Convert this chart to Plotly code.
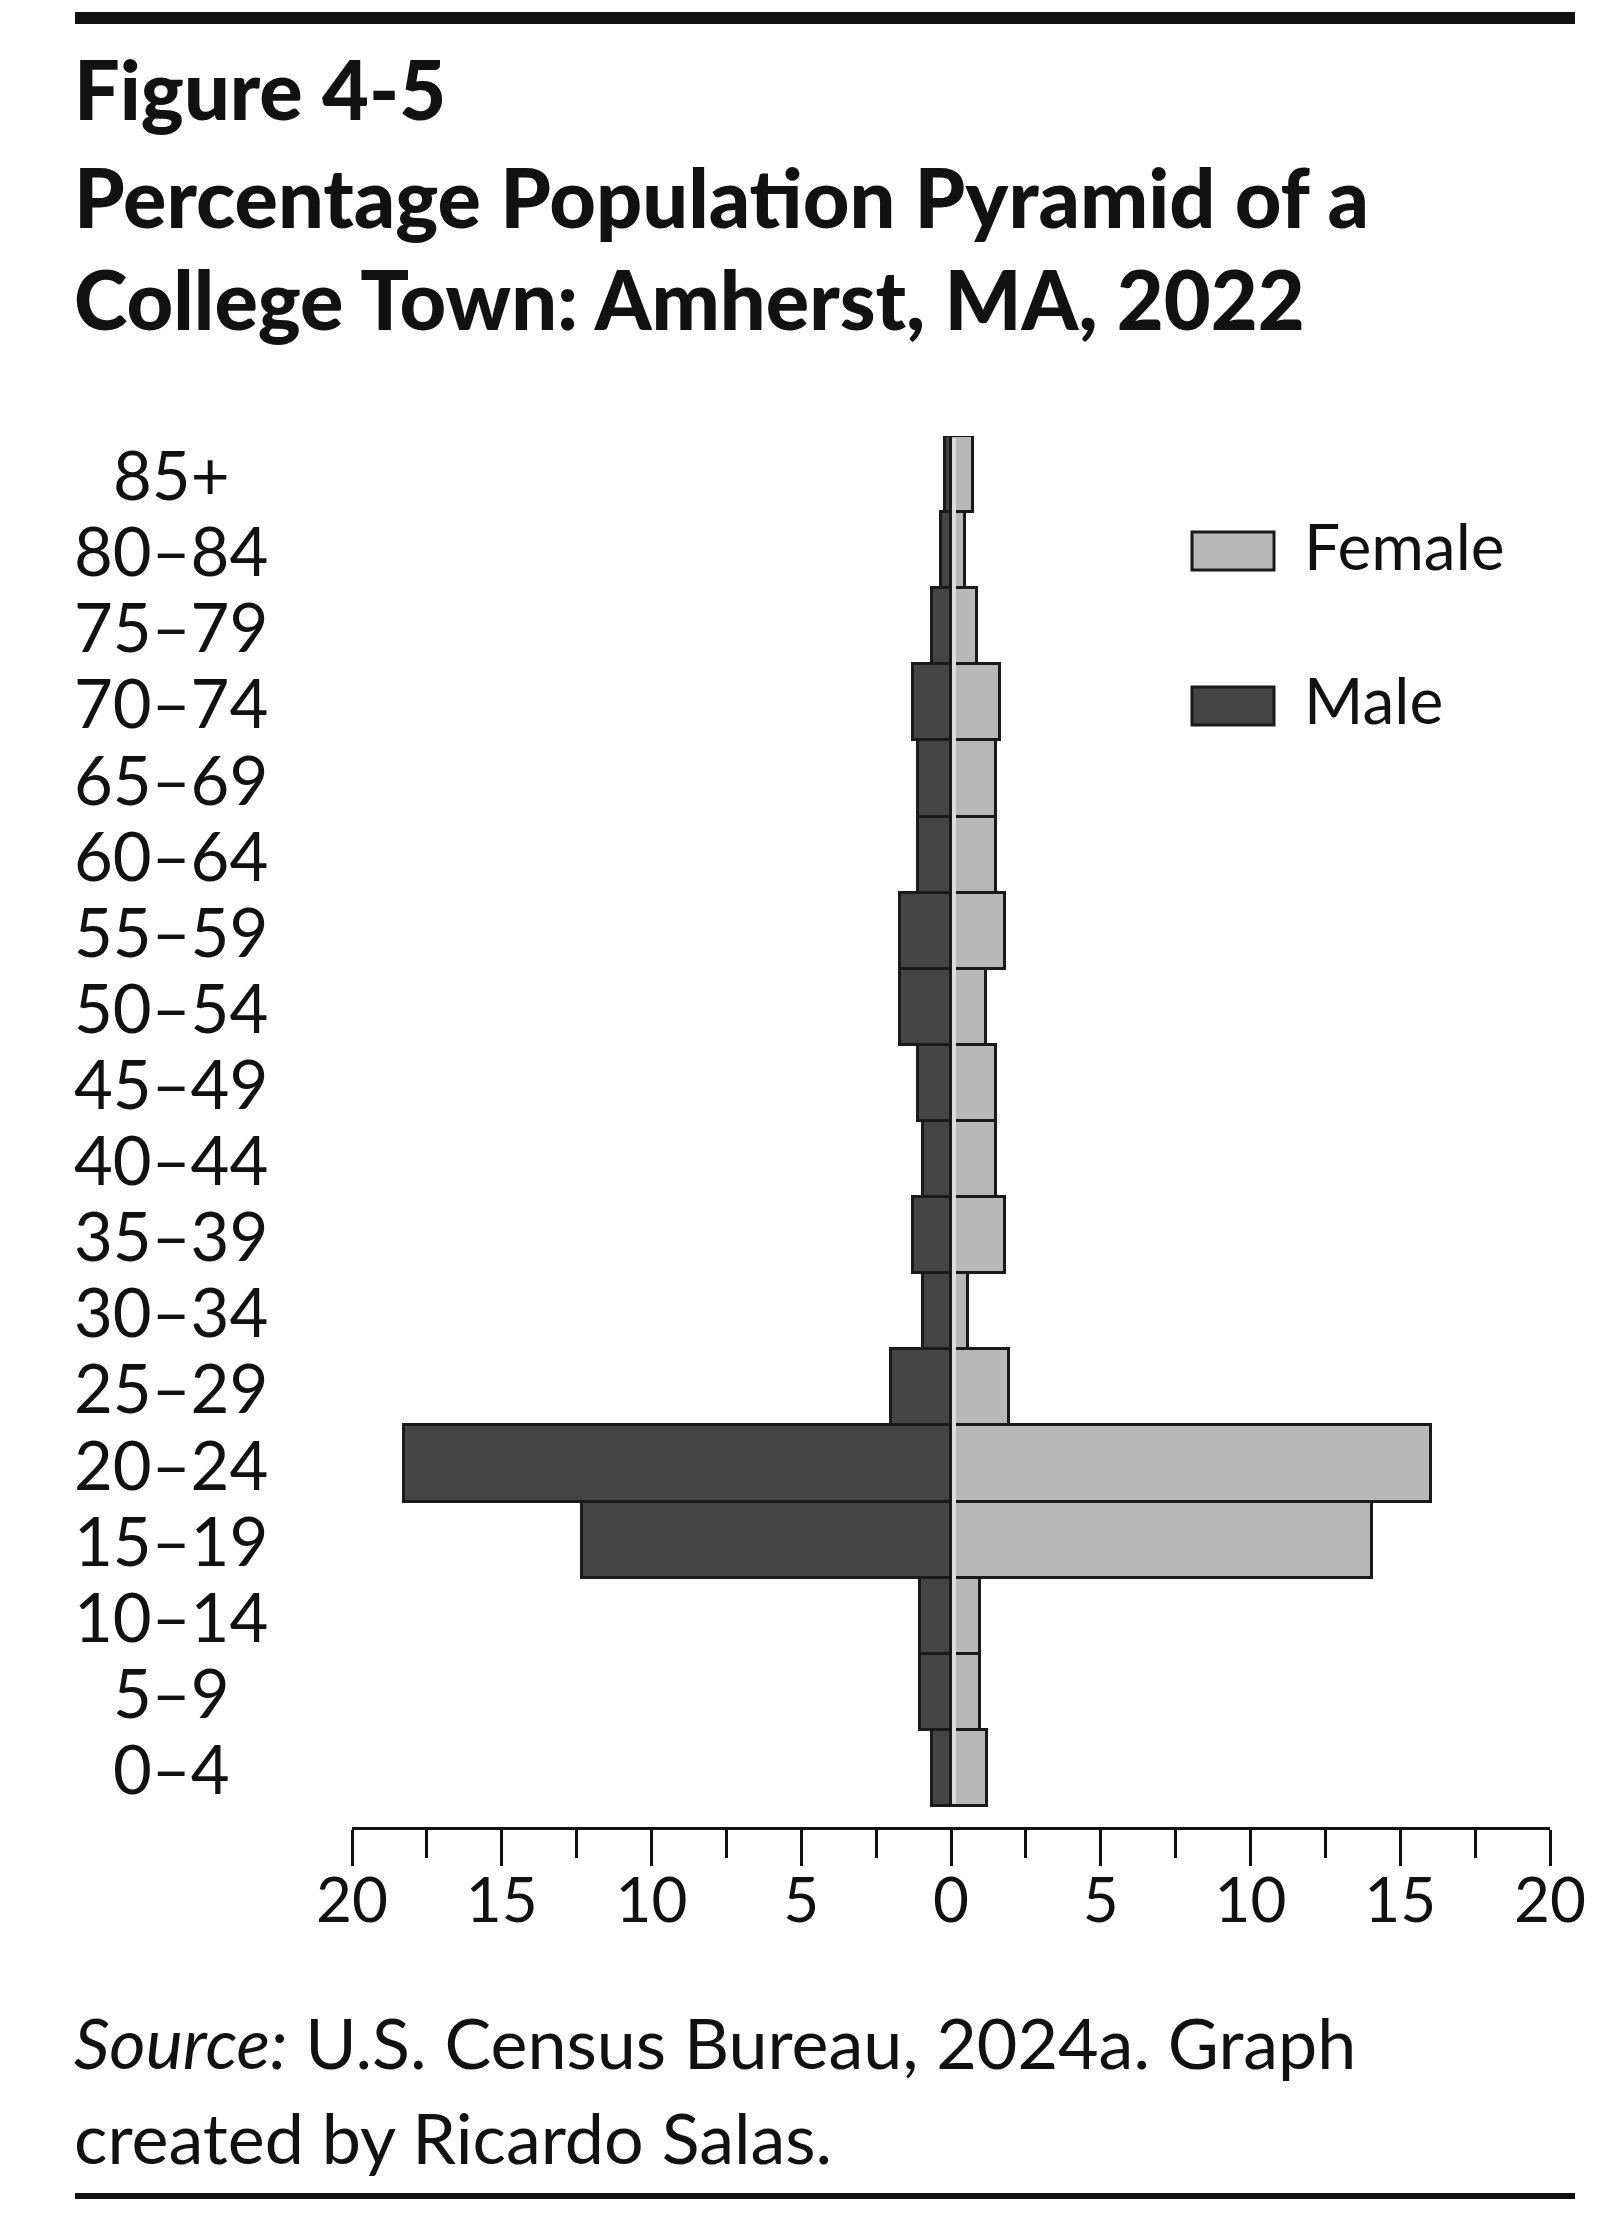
import plotly.graph_objects as go

W, H = 1614, 2236
PAGE_OFFSET = 8  # default body margin of the html page

# === Data (percent of total population) ===
age_groups = ["0–4", "5–9", "10–14", "15–19", "20–24", "25–29", "30–34", "35–39",
              "40–44", "45–49", "50–54", "55–59", "60–64", "65–69", "70–74",
              "75–79", "80–84", "85+"]
male_pct = [0.65, 1.05, 1.05, 12.32, 18.27, 2.01, 0.95, 1.26, 0.95, 1.11,
            1.71, 1.71, 1.11, 1.11, 1.26, 0.64, 0.32, 0.19]
female_pct = [1.19, 0.98, 0.98, 14.04, 16.04, 1.95, 0.58, 1.80, 1.49, 1.49,
              1.18, 1.80, 1.49, 1.49, 1.64, 0.86, 0.47, 0.73]
tick_vals = [-20, -15, -10, -5, 0, 5, 10, 15, 20]
tick_text = ["20", "15", "10", "5", "0", "5", "10", "15", "20"]

MALE_COLOR = "#444444"
FEMALE_COLOR = "#b8b8b8"
EDGE = "#1a1a1a"
TEXT = "#111111"
FONT = "Lato"


def px(x):
    return (x - PAGE_OFFSET) / W


def py(y):
    return 1 - (y - PAGE_OFFSET) / H


fig = go.Figure()

fig.add_trace(go.Bar(
    y=age_groups, x=[-v for v in male_pct], orientation="h", name="Male",
    marker=dict(color=MALE_COLOR, line=dict(color=EDGE, width=3)),
    width=1, showlegend=False,
))
fig.add_trace(go.Bar(
    y=age_groups, x=female_pct, orientation="h", name="Female",
    marker=dict(color=FEMALE_COLOR, line=dict(color=EDGE, width=3)),
    width=1, showlegend=False,
))

annotations = []
shapes = []

# thin light strip right of the zero line
shapes.append(dict(type="line", xref="x", yref="y", x0=0.1, x1=0.1,
                   y0=-0.47, y1=len(age_groups) - 0.53,
                   line=dict(color="#dcdcdc", width=4), layer="above"))

# === Age labels (centered) ===
for age in age_groups:
    annotations.append(dict(
        x=px(171), xref="paper", y=age, yref="y", text=age, showarrow=False,
        xanchor="center", yanchor="middle",
        font=dict(family=FONT, size=67, color=TEXT),
    ))

# === Title ===
title_lines = ["Figure 4-5", "Percentage Population Pyramid of a",
               "College Town: Amherst, MA, 2022"]
for line, yc in zip(title_lines, [89, 197, 298]):
    annotations.append(dict(
        x=px(72), xref="paper", y=py(yc), yref="paper", text=line,
        showarrow=False, xanchor="left", yanchor="middle",
        font=dict(family=FONT, size=81, color=TEXT, weight=900),
    ))

# === Source ===
source_lines = ["<i>Source:</i> U.S. Census Bureau, 2024a. Graph",
                "created by Ricardo Salas."]
for line, yc in zip(source_lines, [2042, 2137]):
    annotations.append(dict(
        x=px(72), xref="paper", y=py(yc), yref="paper", text=line,
        showarrow=False, xanchor="left", yanchor="middle",
        font=dict(family=FONT, size=70, color=TEXT),
    ))

# === Legend (drawn by hand) ===
for label, color, yc in [("Female", FEMALE_COLOR, 551), ("Male", MALE_COLOR, 706)]:
    shapes.append(dict(
        type="rect", xref="paper", yref="paper",
        x0=px(1192), x1=px(1274), y0=py(yc - 19), y1=py(yc + 19),
        fillcolor=color, line=dict(color=EDGE, width=3),
    ))
    annotations.append(dict(
        x=px(1302), xref="paper", y=py(yc - 6), yref="paper", text=label,
        showarrow=False, xanchor="left", yanchor="middle",
        font=dict(family=FONT, size=64, color=TEXT),
    ))

# === Rules ===
shapes.append(dict(type="rect", xref="paper", yref="paper",
                   x0=px(75), x1=px(1575), y0=py(24), y1=py(12),
                   fillcolor=TEXT, line=dict(width=0)))
shapes.append(dict(type="rect", xref="paper", yref="paper",
                   x0=px(75), x1=px(1575), y0=py(2199), y1=py(2193),
                   fillcolor=TEXT, line=dict(width=0)))

fig.update_layout(
    width=W, height=H,
    margin=dict(l=0, r=0, t=0, b=0, autoexpand=False),
    barmode="overlay", bargap=0,
    plot_bgcolor="white", paper_bgcolor="white",
    annotations=annotations, shapes=shapes,
    xaxis=dict(
        domain=[px(352), px(1550)], range=[-20, 20], automargin=False,
        showline=True, linewidth=3, linecolor=TEXT,
        ticks="outside", ticklen=36, tickwidth=3, tickcolor=TEXT,
        tickmode="array", tickvals=tick_vals, ticktext=tick_text,
        tickfont=dict(family=FONT, size=62, color=TEXT),
        ticklabelstandoff=-18,
        showgrid=False, zeroline=False,
        minor=dict(ticks="outside", dtick=2.5, tick0=0, ticklen=28,
                   tickwidth=3, tickcolor=TEXT, showgrid=False),
    ),
    yaxis=dict(
        domain=[py(1827), py(436)], range=[-0.776, 17.5], automargin=False,
        type="category", categoryorder="array", categoryarray=age_groups,
        showticklabels=False, showgrid=False, zeroline=False, showline=False,
        ticks="",
    ),
)

fig.write_html("out.html")
